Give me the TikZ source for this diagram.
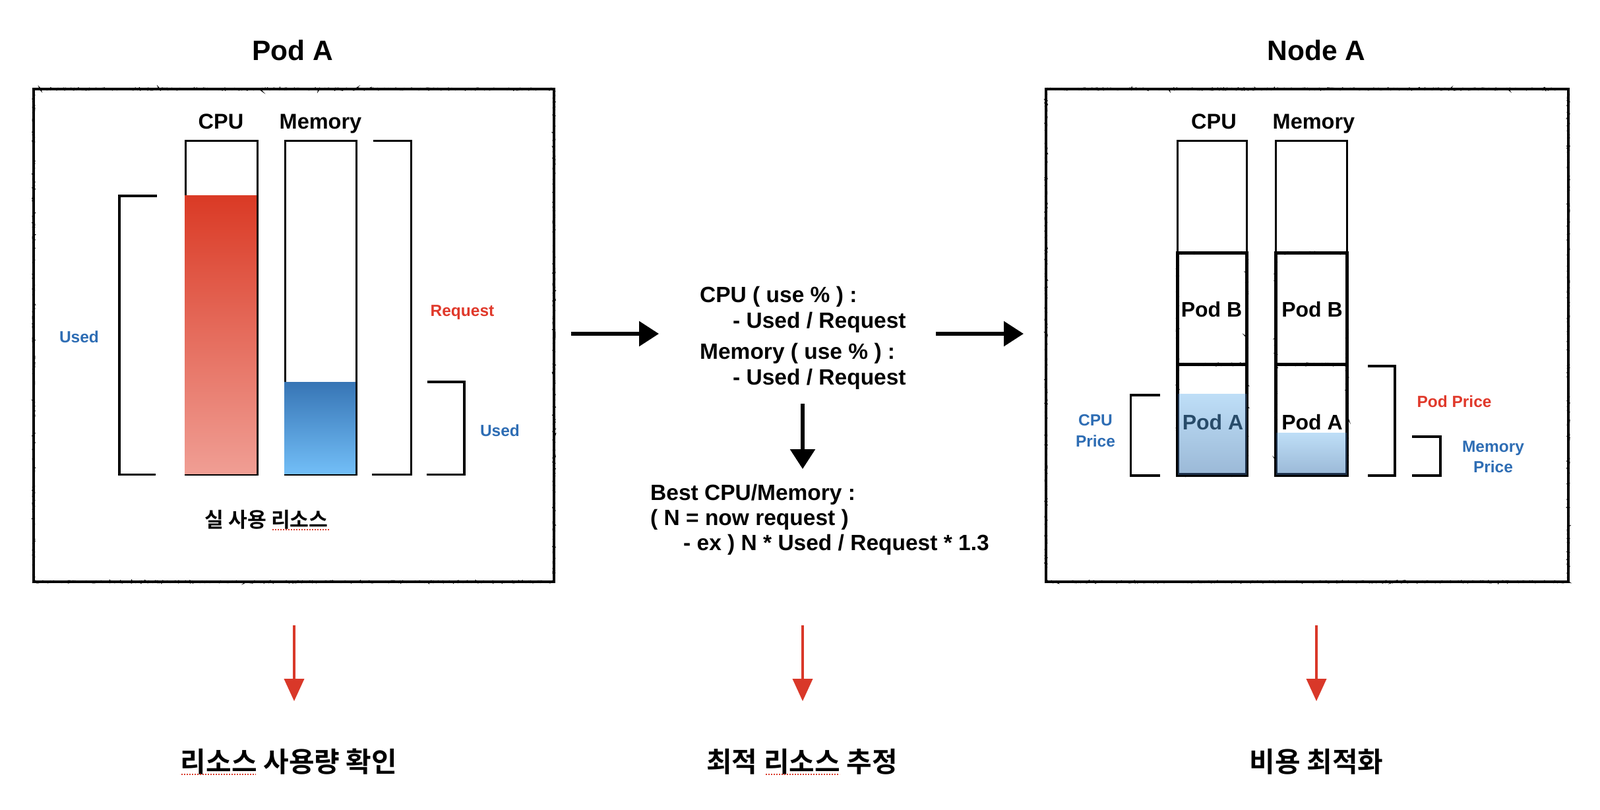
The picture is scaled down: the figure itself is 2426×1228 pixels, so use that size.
\documentclass[tikz,border=0pt]{standalone}
\usepackage{fontspec}
\setmainfont{Liberation Sans}
\newfontfamily\krfont{Noto Sans CJK KR Bold}
\usetikzlibrary{arrows.meta,decorations.pathmorphing}
\definecolor{txtblue}{RGB}{46,109,180}
\definecolor{txtred}{RGB}{224,57,43}
\definecolor{redtop}{RGB}{218,58,37}
\definecolor{redbot}{RGB}{240,158,148}
\definecolor{bluetop}{RGB}{55,117,181}
\definecolor{bluebot}{RGB}{114,190,247}
\definecolor{lbtop}{RGB}{190,222,247}
\definecolor{lbbot}{RGB}{155,185,215}
\definecolor{navy}{RGB}{28,48,74}
\definecolor{slate}{RGB}{40,75,105}
\definecolor{arrred}{RGB}{217,56,41}
\tikzset{
  x=1pt, y=-1pt,
  ttl/.style={font=\bfseries\fontsize{42.5}{50}\selectfont, anchor=base, inner sep=0},
  lbl/.style={font=\bfseries\fontsize{32.5}{38}\selectfont, anchor=base, inner sep=0},
  podlbl/.style={font=\bfseries\fontsize{32}{38}\selectfont, anchor=base, inner sep=0},
  sml/.style={font=\bfseries\fontsize{24.5}{29}\selectfont, anchor=base, inner sep=0},
  midtxt/.style={font=\bfseries\fontsize{33.5}{40}\selectfont, anchor=base west, inner sep=0},
  krbig/.style={font=\krfont\fontsize{42}{50}\selectfont, anchor=base, inner sep=0},
  krsmall/.style={font=\krfont\fontsize{31.3}{37}\selectfont, anchor=base, inner sep=0},
  barline/.style={draw, line width=3},
  brk/.style={line width=3.5},
  chalk/.style={line width=4.8},
  chalkrough/.style={line width=2, decorate, decoration={random steps, segment length=2, amplitude=1.5}},
  blackarrow/.style={line width=6, -{Triangle[length=30pt,width=37pt]}},
  redarrow/.style={line width=4, arrred, -{Triangle[length=34pt,width=30pt]}},
  squiggle/.style={arrred, line width=2, dash pattern=on 2pt off 2pt},
}
\begin{document}
\begin{tikzpicture}
\useasboundingbox (0,0) rectangle (2426,1228);
\fill[white] (0,0) rectangle (2426,1228);

% ---------- Left panel: Pod A ----------
\node[ttl] (podtitle) at (444,92) {Pod A};
\draw[chalk] (51,135) rectangle (840,882);
\draw[chalkrough] (51,135) rectangle (840,882);

\node[lbl] (cpuL) at (335,195) {CPU};
\node[lbl] (memL) at (486,195) {Memory};

\draw[barline] (281.5,213.5) rectangle (390.5,719.5);
\shade[top color=redtop, bottom color=redbot] (280,296) rectangle (389,718);
\draw[barline] (432.5,213.5) rectangle (540.5,719.5);
\shade[top color=bluetop, bottom color=bluebot] (431,579) rectangle (539,718);

\draw[brk] (238,297) -- (181,297) -- (181,719.5) -- (236,719.5);
\draw[brk] (566,213.5) -- (623.5,213.5) -- (623.5,719.5) -- (564,719.5);
\draw[brk] (648,579) -- (704,579) -- (704,719.5) -- (647,719.5);

\node[sml, txtblue] (usedL) at (120,519) {Used};
\node[sml, txtred] (reqL) at (701,479) {Request};
\node[sml, txtblue] (usedR) at (758,661) {Used};

\node[krsmall] (realuse) at (404,799) {실 사용 리소스};
\draw[squiggle] (413,803) -- (499,803);

% ---------- Middle ----------
\coordinate (a1s) at (866,506);
\coordinate (a1e) at (999,506);
\draw[blackarrow] (a1s) -- (a1e);

\node[midtxt] (m1) at (1061,458) {CPU ( use \% ) :};
\node[midtxt] (m2) at (1111,497) {- Used / Request};
\node[midtxt] (m3) at (1061,544) {Memory ( use \% ) :};
\node[midtxt] (m4) at (1111,583) {- Used / Request};

\coordinate (a3s) at (1217,612);
\coordinate (a3e) at (1217,711);
\draw[blackarrow] (a3s) -- (a3e);

\node[midtxt] (b1) at (986,758) {Best CPU/Memory :};
\node[midtxt] (b2) at (986,796) {( N = now request )};
\node[midtxt] (b3) at (1036,834) {- ex ) N * Used / Request * 1.3};

\coordinate (a2s) at (1419,506);
\coordinate (a2e) at (1552,506);
\draw[blackarrow] (a2s) -- (a2e);

% ---------- Right panel: Node A ----------
\node[ttl] (nodetitle) at (1996,92) {Node A};
\draw[chalk] (1586,135) rectangle (2378,882);
\draw[chalkrough] (1586,135) rectangle (2378,882);

\node[lbl] (cpuR) at (1840.5,195) {CPU};
\node[lbl] (memR) at (1992,195) {Memory};

% CPU column
\draw[barline] (1785.5,213.5) rectangle (1890.5,383.5);
\draw[line width=5] (1785.5,383.5) rectangle (1890.5,552.5);
\draw[chalkrough] (1785.5,383.5) rectangle (1890.5,552.5);
\draw[line width=5] (1785.5,552.5) rectangle (1890.5,720);
\draw[chalkrough] (1785.5,552.5) rectangle (1890.5,720);
\shade[top color=lbtop, bottom color=lbbot] (1786,597) rectangle (1890,719);
\draw[navy, line width=2.5] (1787,597) -- (1787,718.5) -- (1889,718.5) -- (1889,597);
\node[podlbl] (podbC) at (1837,480.5) {Pod B};
\node[podlbl, slate] (podaC) at (1839,651.5) {Pod A};

% Memory column
\draw[barline] (1934.5,213.5) rectangle (2042.5,383.5);
\draw[line width=5] (1934.5,383.5) rectangle (2042.5,552.5);
\draw[chalkrough] (1934.5,383.5) rectangle (2042.5,552.5);
\draw[line width=5] (1934.5,552.5) rectangle (2042.5,720);
\draw[chalkrough] (1934.5,552.5) rectangle (2042.5,720);
\shade[top color=lbtop, bottom color=lbbot] (1935,656) rectangle (2042,719);
\draw[navy, line width=2.5] (1936,656) -- (1936,718.5) -- (2041,718.5) -- (2041,656);
\node[podlbl] (podbM) at (1989.5,480.5) {Pod B};
\node[podlbl] (podaM) at (1989.5,651.5) {Pod A};

% brackets
\draw[brk] (1759,599) -- (1714.5,599) -- (1714.5,721) -- (1759,721);
\draw[brk] (2074,555) -- (2115,555) -- (2115,721) -- (2074,721);
\draw[brk] (2141,662) -- (2184,662) -- (2184,721) -- (2141,721);

\node[sml, txtblue] (cpuprice1) at (1661,645) {CPU};
\node[sml, txtblue] (cpuprice2) at (1661,677) {Price};
\node[sml, txtred] (podprice) at (2205,617) {Pod Price};
\node[sml, txtblue] (memprice1) at (2264,685) {Memory};
\node[sml, txtblue] (memprice2) at (2264,716) {Price};

% ---------- Bottom ----------
\coordinate (r1s) at (446,948);
\coordinate (r1e) at (446,1063);
\coordinate (r2s) at (1217,948);
\coordinate (r2e) at (1217,1063);
\coordinate (r3s) at (1996,948);
\coordinate (r3e) at (1996,1063);
\draw[redarrow] (r1s) -- (r1e);
\draw[redarrow] (r2s) -- (r2e);
\draw[redarrow] (r3s) -- (r3e);

\node[krbig] (res1) at (438,1170) {리소스 사용량 확인};
\node[krbig] (res2) at (1216,1170) {최적 리소스 추정};
\node[krbig] (res3) at (1996,1170) {비용 최적화};
\draw[squiggle] (275,1174) -- (388,1174);
\draw[squiggle] (1161,1174) -- (1273,1174);
\end{tikzpicture}
\end{document}
